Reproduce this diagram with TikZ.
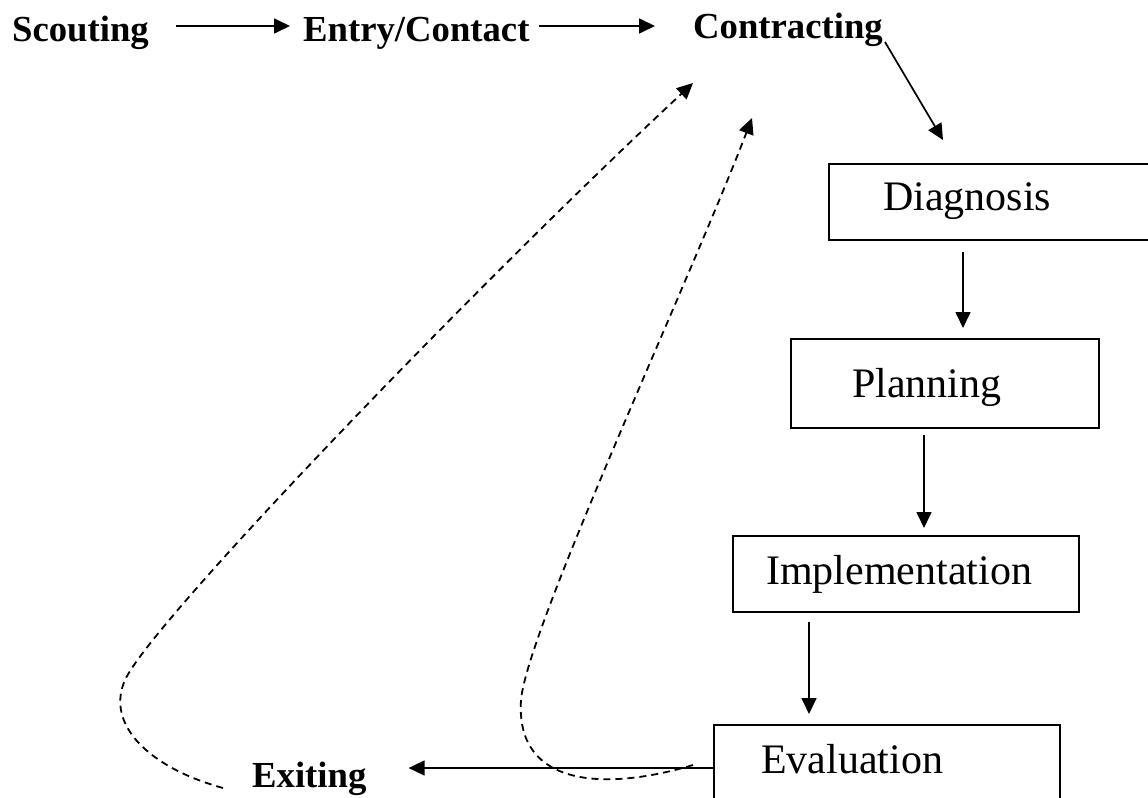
\documentclass[tikz,border=0pt]{standalone}
\usepackage{fontspec}
\setmainfont{Liberation Serif}
\usetikzlibrary{arrows.meta}

\begin{document}
\begin{tikzpicture}[x=1bp, y=-1bp,
    stage/.style={font=\fontsize{36.7bp}{44bp}\selectfont\bfseries, inner sep=0pt, anchor=base west},
    boxtext/.style={font=\fontsize{42bp}{50bp}\selectfont, inner sep=0pt, anchor=base west},
    box/.style={draw, line width=2bp, inner sep=0pt, anchor=north west},
    flow/.style={line width=1.7bp, -{Triangle[length=16bp,width=15bp]}},
    back/.style={flow, line width=1.8bp, dash pattern=on 7bp off 5bp}]

    \useasboundingbox (0,0) rectangle (1148,798);
    \clip (0,0) rectangle (1148,798);

    \node[stage] (scout) at (12,42) {Scouting};
    \node[stage] (entry) at (303,42) {Entry/Contact};
    \node[stage] (contr) at (693,39) {Contracting};
    \node[stage] (exit) at (252,787) {Exiting};

    \node[box, minimum width=342bp, minimum height=76bp] (diag) at (828,163) {};
    \node[box, minimum width=308bp, minimum height=89bp] (plan) at (790,338) {};
    \node[box, minimum width=346bp, minimum height=76bp] (impl) at (732,535) {};
    \node[box, minimum width=346bp, minimum height=96bp] (eval) at (713,724) {};

    \node[boxtext] (diagtxt) at (883,210) {Diagnosis};
    \node[boxtext] (plantxt) at (852,397) {Planning};
    \node[boxtext] (impltxt) at (766,584) {Implementation};
    \node[boxtext] (evaltxt) at (761,773) {Evaluation};

    \draw[flow] ([shift={(27,-16)}]scout.base east) -- ([shift={(-13,-16)}]entry.base west);
    \draw[flow] ([shift={(9,-16)}]entry.base east) -- ([shift={(-38,-13)}]contr.base west);
    \draw[flow] ([shift={(2,3)}]contr.base east) -- ([shift={(115,-23)}]diag.north west);
    \draw[flow] ([shift={(135,11)}]diag.south west) -- ([shift={(173,-10)}]plan.north west);
    \draw[flow] ([shift={(134,6)}]plan.south west) -- ([shift={(192,-7)}]impl.north west);
    \draw[flow] ([shift={(77,9)}]impl.south west) -- ([shift={(96,-10)}]eval.north west);
    \draw[flow] ([shift={(0,44)}]eval.north west) -- ([shift={(42,-19)}]exit.base east);

    % loops back to contracting
    \coordinate (exit0) at ([shift={(-29,1)}]exit.base west);
    \coordinate (eval0) at ([shift={(-20,41)}]eval.north west);
    \coordinate (contr1) at ([shift={(0,44)}]contr.base west);
    \coordinate (contr2) at ([shift={(59,79)}]contr.base west);

    \draw[back] (exit0) .. controls (150,768) and (105,725) .. (125,680)
        .. controls (150,624) and (474,287) .. (contr1);
    \draw[back] (eval0) .. controls (610,790) and (515,790) .. (521,700)
        .. controls (527,630) and (690,280) .. (contr2);
\end{tikzpicture}
\end{document}
